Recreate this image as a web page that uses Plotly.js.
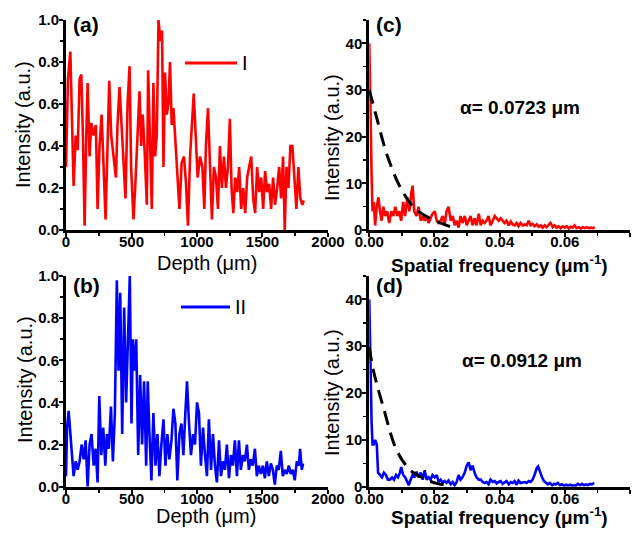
<!DOCTYPE html>
<html>
<head>
<meta charset="utf-8">
<script src="https://cdn.plot.ly/plotly-3.0.1.min.js"></script>
<style>html,body{margin:0;padding:0;background:#fff;}#chart{width:644px;height:533px;}</style>
</head>
<body>
<div id="chart"></div>
<script>
// ---- Panel (a): depth profile I ----
const depthA = [0,15,33,46,58,74,89,104,117,129,142,155,165,180,193,211,228,241,256,272,287,302,317,330,345,363,381,393,409,424,439,454,470,485,497,515,528,546,561,574,586,602,617,627,642,655,667,680,693,706,721,733,744,756,769,782,794,807,820,837,853,866,883,901,916,931,947,962,975,990,1005,1023,1041,1056,1068,1084,1099,1114,1129,1145,1160,1175,1190,1206,1221,1236,1251,1264,1277,1292,1307,1322,1337,1353,1368,1383,1398,1414,1429,1444,1459,1475,1490,1505,1520,1535,1551,1566,1581,1596,1612,1627,1642,1657,1670,1683,1698,1713,1728,1744,1759,1774,1789,1804,1815];
const intensA = [0.30,0.72,0.85,0.55,0.21,0.45,0.38,0.72,0.74,0.45,0.02,0.45,0.70,0.35,0.51,0.45,0.50,0.10,0.40,0.55,0.25,0.05,0.40,0.71,0.45,0.35,0.25,0.50,0.68,0.50,0.30,0.15,0.60,0.78,0.30,0.05,0.20,0.45,0.66,0.40,0.55,0.35,0.12,0.76,0.35,0.10,0.70,0.35,0.45,1.00,0.90,0.95,0.30,0.75,0.55,0.60,0.80,0.50,0.58,0.40,0.25,0.10,0.32,0.35,0.22,0.02,0.35,0.50,0.65,0.45,0.25,0.35,0.30,0.10,0.40,0.58,0.30,0.05,0.30,0.25,0.10,0.40,0.20,0.35,0.20,0.30,0.53,0.20,0.08,0.25,0.18,0.30,0.10,0.20,0.08,0.25,0.30,0.35,0.15,0.08,0.30,0.18,0.25,0.10,0.28,0.18,0.22,0.10,0.25,0.12,0.20,0.30,0.15,0.35,0.00,0.30,0.20,0.40,0.40,0.25,0.10,0.30,0.15,0.12,0.14];

// ---- Panel (b): depth profile II ----
const depthB = [0,8,20,33,46,58,74,89,104,119,135,150,165,180,195,211,226,241,254,269,284,300,312,327,343,358,373,388,401,414,429,444,459,475,487,500,510,523,536,551,566,581,596,612,624,637,652,667,683,698,713,728,744,759,774,789,805,820,835,850,866,881,896,911,924,939,954,970,985,1000,1015,1030,1046,1061,1076,1091,1107,1122,1137,1152,1168,1183,1198,1213,1228,1244,1259,1274,1289,1305,1320,1335,1350,1365,1381,1396,1411,1426,1442,1457,1472,1487,1503,1518,1533,1548,1564,1579,1594,1609,1624,1640,1655,1670,1685,1701,1716,1731,1746,1762,1777,1787,1800,1810];
const intensB = [0.05,0.28,0.36,0.25,0.15,0.05,0.12,0.08,0.12,0.20,0.13,0.22,0.00,0.20,0.25,0.10,0.18,0.02,0.43,0.15,0.28,0.10,0.25,0.18,0.38,0.12,0.35,0.98,0.55,0.92,0.25,0.85,0.40,0.78,1.00,0.30,0.70,0.55,0.70,0.15,0.53,0.20,0.50,0.10,0.50,0.25,0.03,0.35,0.10,0.25,0.05,0.20,0.32,0.10,0.25,0.13,0.22,0.37,0.30,0.03,0.25,0.30,0.15,0.35,0.50,0.30,0.15,0.25,0.20,0.40,0.35,0.10,0.28,0.15,0.05,0.32,0.08,0.25,0.10,0.02,0.22,0.05,0.12,0.08,0.20,0.04,0.15,0.10,0.22,0.05,0.22,0.08,0.15,0.12,0.20,0.08,0.13,0.10,0.18,0.05,0.10,0.06,0.10,0.04,0.12,0.05,0.11,0.08,0.01,0.10,0.08,0.17,0.05,0.08,0.06,0.10,0.06,0.08,0.03,0.12,0.10,0.18,0.08,0.11];

// ---- Panel (c): spectrum of I and fit ----
const freqC = [0,0.0002,0.0004,0.0007,0.0010,0.0014,0.0018,0.0023,0.0028,0.0033,0.0038,0.0043,0.0049,0.0055,0.0061,0.0068,0.0074,0.0080,0.0086,0.0092,0.0098,0.0104,0.0110,0.0117,0.0123,0.0129,0.0133,0.0138,0.0145,0.0151,0.0158,0.0164,0.0170,0.0176,0.0182,0.0188,0.0194,0.0201,0.0207,0.0213,0.0219,0.0225,0.0231,0.0237,0.0243,0.0250,0.0256,0.0262,0.0268,0.0274,0.0280,0.0286,0.0293,0.0299,0.0305,0.0311,0.0317,0.0323,0.0329,0.0336,0.0342,0.0348,0.0354,0.0360,0.0366,0.0372,0.0379,0.0385,0.0391,0.0397,0.0403,0.0409,0.0415,0.0421,0.0428,0.0434,0.0440,0.0446,0.0452,0.0458,0.0464,0.0471,0.0477,0.0483,0.0489,0.0495,0.0501,0.0507,0.0514,0.0520,0.0526,0.0532,0.0538,0.0544,0.0550,0.0556,0.0563,0.0569,0.0575,0.0581,0.0587,0.0593,0.0600,0.0606,0.0612,0.0618,0.0624,0.0630,0.0636,0.0642,0.0649,0.0655,0.0661,0.0667,0.0673,0.0679,0.0685,0.0692];
const specC = [40,35,25,12,4,6,1,5,7,4,2,5,3,4,1.5,4,3,5,3,4,2,6,3,7,4,8,9.5,4,3,5,2,3,2,3,1.5,2.5,3.5,4,2,1.5,2,3,1,4,5,2,3,1,2,0.5,3,1.5,3,1,2,3,1,2.5,1,3.5,1,2,1.5,2,3,1,2,3,2.5,2,2.5,2,1.5,2,1,1.8,1.2,1,1.5,0.8,1.5,1,1.2,1,2,1,1.3,0.8,1.2,0.7,1,0.5,1,0.6,1,1.5,0.6,1,0.5,0.8,0.4,0.8,0.5,0.8,0.3,0.7,0.5,1,0.4,0.6,0.3,0.6,0.4,0.6,0.4,0.5,0.4,0.6];
const fitFreqC = [0,0.0023,0.0053,0.0094,0.0135,0.0186,0.0237,0.0270];
const fitC = [30,24,16.4,9.3,5,2.5,1,0.3];

// ---- Panel (d): spectrum of II and fit ----
const freqD = [0,0.0002,0.0004,0.0007,0.0010,0.0014,0.0018,0.0023,0.0027,0.0033,0.0039,0.0045,0.0051,0.0057,0.0063,0.0070,0.0076,0.0082,0.0088,0.0094,0.0098,0.0104,0.0110,0.0117,0.0121,0.0127,0.0133,0.0139,0.0145,0.0151,0.0158,0.0164,0.0170,0.0176,0.0182,0.0188,0.0194,0.0201,0.0207,0.0213,0.0219,0.0225,0.0231,0.0237,0.0243,0.0250,0.0256,0.0262,0.0268,0.0274,0.0280,0.0286,0.0293,0.0299,0.0305,0.0311,0.0317,0.0323,0.0329,0.0336,0.0342,0.0348,0.0354,0.0360,0.0366,0.0372,0.0379,0.0385,0.0391,0.0397,0.0403,0.0409,0.0415,0.0421,0.0428,0.0434,0.0440,0.0446,0.0452,0.0458,0.0464,0.0471,0.0477,0.0483,0.0489,0.0495,0.0501,0.0507,0.0514,0.0518,0.0524,0.0530,0.0536,0.0542,0.0548,0.0554,0.0561,0.0567,0.0573,0.0579,0.0585,0.0591,0.0598,0.0604,0.0610,0.0616,0.0622,0.0628,0.0634,0.0640,0.0647,0.0653,0.0659,0.0665,0.0671,0.0677,0.0683,0.0690];
const specD = [40,30,22,14,9,9,10,9,3,2.5,2,3,2.5,1.5,1.5,2,1.5,2.5,2,3,4.2,2.5,2,1,0.3,1.5,2.5,2,3.2,2,3,1.5,3.5,1.5,2,1.5,2.5,2,2.5,1,1.5,0.8,1.2,0.8,1.3,0.5,1,0.3,1,2.5,1.5,2,3,4.5,5.2,3.5,4.5,3,2,1.5,1.5,1,0.8,1,0.5,1.5,1,1.2,0.7,1,1.2,0.6,1,1.2,0.5,1,0.8,1.2,0.4,1.3,0.8,1,1,0.8,1.2,1,1.5,2.5,4,4.3,3,2,1.2,0.8,0.5,0.8,0.3,0.6,0.5,0.8,0.3,0.5,0.2,0.4,0.2,0.4,0.2,0.3,0.2,0.6,0.3,0.6,0.3,0.5,0.3,0.6,0.5,0.8];
const fitFreqD = [0,0.0012,0.0043,0.0084,0.0125,0.0166,0.0207,0.0237];
const fitD = [29.8,25,17,7.8,3.6,1.8,0.7,0.3];

// ---- Text ----
const panelLabels = ["(a)","(b)","(c)","(d)"];
const seriesNames = ["I","II"];
const alphaTexts = ["α= 0.0723 μm","α= 0.0912 μm"];
const depthTitle = "Depth (μm)";
const freqTitle = "Spatial frequency (μm<sup>-1</sup>)";
const intTitle = "Intensity (a.u.)";

const FONT = "Arial, 'Liberation Sans', sans-serif";
const tickFont = {family: FONT, size: 15, color: "#000", weight: "bold"};

function axisBase(extra) {
  return Object.assign({
    showline: true, linewidth: 3, linecolor: "#000",
    ticks: "outside", ticklen: 4, tickwidth: 2, tickcolor: "#000",
    showgrid: false, zeroline: false, mirror: false,
    tickfont: tickFont, fixedrange: true
  }, extra);
}
const minorX = (d) => ({ticks: "outside", ticklen: 3, tickwidth: 1.5, dtick: d, tickcolor: "#000"});

const dxA = [0.1025, 0.5093], dxC = [0.5734, 0.9783];
const dyTop = [0.5685, 0.9625], dyBot = [0.0869, 0.4822];

const traces = [
  {x: depthA, y: intensA, xaxis: "x", yaxis: "y", mode: "lines", line: {color: "#ff0000", width: 2.6}, showlegend: false},
  {x: freqC, y: specC, xaxis: "x2", yaxis: "y2", mode: "lines", line: {color: "#ff0000", width: 2.6}, showlegend: false},
  {x: fitFreqC, y: fitC, xaxis: "x2", yaxis: "y2", mode: "lines", line: {color: "#000", width: 3, dash: "14px,8px", shape: "spline"}, showlegend: false},
  {x: depthB, y: intensB, xaxis: "x3", yaxis: "y3", mode: "lines", line: {color: "#0000ff", width: 2.6}, showlegend: false},
  {x: freqD, y: specD, xaxis: "x4", yaxis: "y4", mode: "lines", line: {color: "#0000ff", width: 2.6}, showlegend: false},
  {x: fitFreqD, y: fitD, xaxis: "x4", yaxis: "y4", mode: "lines", line: {color: "#000", width: 3, dash: "14px,8px", shape: "spline"}, showlegend: false}
];

const XS = -8, YS = -3;
const layout = {
  width: 644, height: 533,
  margin: {l: 0, r: 0, t: 0, b: 0},
  paper_bgcolor: "#fff", plot_bgcolor: "#fff",
  showlegend: false,
  xaxis: axisBase({domain: dxA, anchor: "y", range: [0, 2000], dtick: 500, tick0: 0, minor: minorX(250), ticklabelstandoff: XS}),
  yaxis: axisBase({domain: dyTop, anchor: "x", range: [0, 1], dtick: 0.2, tickformat: ".1f", minor: minorX(0.1), ticklabelstandoff: YS}),
  xaxis2: axisBase({domain: dxC, anchor: "y2", range: [0, 0.08], dtick: 0.02, tickformat: ".2f", minor: minorX(0.01), ticklabelstandoff: XS}),
  yaxis2: axisBase({domain: dyTop, anchor: "x2", range: [0, 45], dtick: 10, minor: minorX(5), ticklabelstandoff: YS}),
  xaxis3: axisBase({domain: dxA, anchor: "y3", range: [0, 2000], dtick: 500, tick0: 0, minor: minorX(250), ticklabelstandoff: XS}),
  yaxis3: axisBase({domain: dyBot, anchor: "x3", range: [0, 1], dtick: 0.2, tickformat: ".1f", minor: minorX(0.1), ticklabelstandoff: YS}),
  xaxis4: axisBase({domain: dxC, anchor: "y4", range: [0, 0.08], dtick: 0.02, tickformat: ".2f", minor: minorX(0.01), ticklabelstandoff: XS}),
  yaxis4: axisBase({domain: dyBot, anchor: "x4", range: [0, 45], dtick: 10, minor: minorX(5), ticklabelstandoff: YS}),
  annotations: [],
  shapes: [
    {type: "line", xref: "paper", yref: "paper", x0: 185/644, x1: 237/644, y0: 1 - 63/533, y1: 1 - 63/533, line: {color: "#ff0000", width: 3}},
    {type: "line", xref: "paper", yref: "paper", x0: 181/644, x1: 230/644, y0: 1 - 307/533, y1: 1 - 307/533, line: {color: "#0000ff", width: 3}}
  ]
};

function ann(text, px, py, size, bold, anchor, angle) {
  layout.annotations.push({text: text, xref: "paper", yref: "paper", x: px/644, y: 1 - py/533,
    xanchor: anchor || "center", yanchor: "middle", showarrow: false, textangle: angle || 0,
    font: {family: FONT, size: size, color: "#000", weight: bold ? "bold" : "normal"}});
}
// panel labels
ann(panelLabels[0], 71, 25, 21, true, "left");
ann(panelLabels[1], 71, 285, 21, true, "left");
ann(panelLabels[2], 374, 25, 21, true, "left");
ann(panelLabels[3], 374, 285, 21, true, "left");
// legend labels
ann(seriesNames[0], 240, 63, 20, false, "left");
ann(seriesNames[1], 233, 307, 20, false, "left");
// alpha values
ann(alphaTexts[0], 520, 108, 19, true);
ann(alphaTexts[1], 522, 360, 19, true);
// axis titles
ann(depthTitle, 207, 263, 20, false);
ann(depthTitle, 206, 516, 20, false);
ann(freqTitle, 499, 264, 19, true);
ann(freqTitle, 499, 516, 19, true);
ann(intTitle, 23, 125, 20, false, "center", -90);
ann(intTitle, 25, 380, 20, false, "center", -90);
ann(intTitle, 332, 138, 20, false, "center", -90);
ann(intTitle, 332, 393, 20, false, "center", -90);

Plotly.newPlot("chart", traces, layout, {displayModeBar: false, staticPlot: true});
</script>
</body>
</html>
